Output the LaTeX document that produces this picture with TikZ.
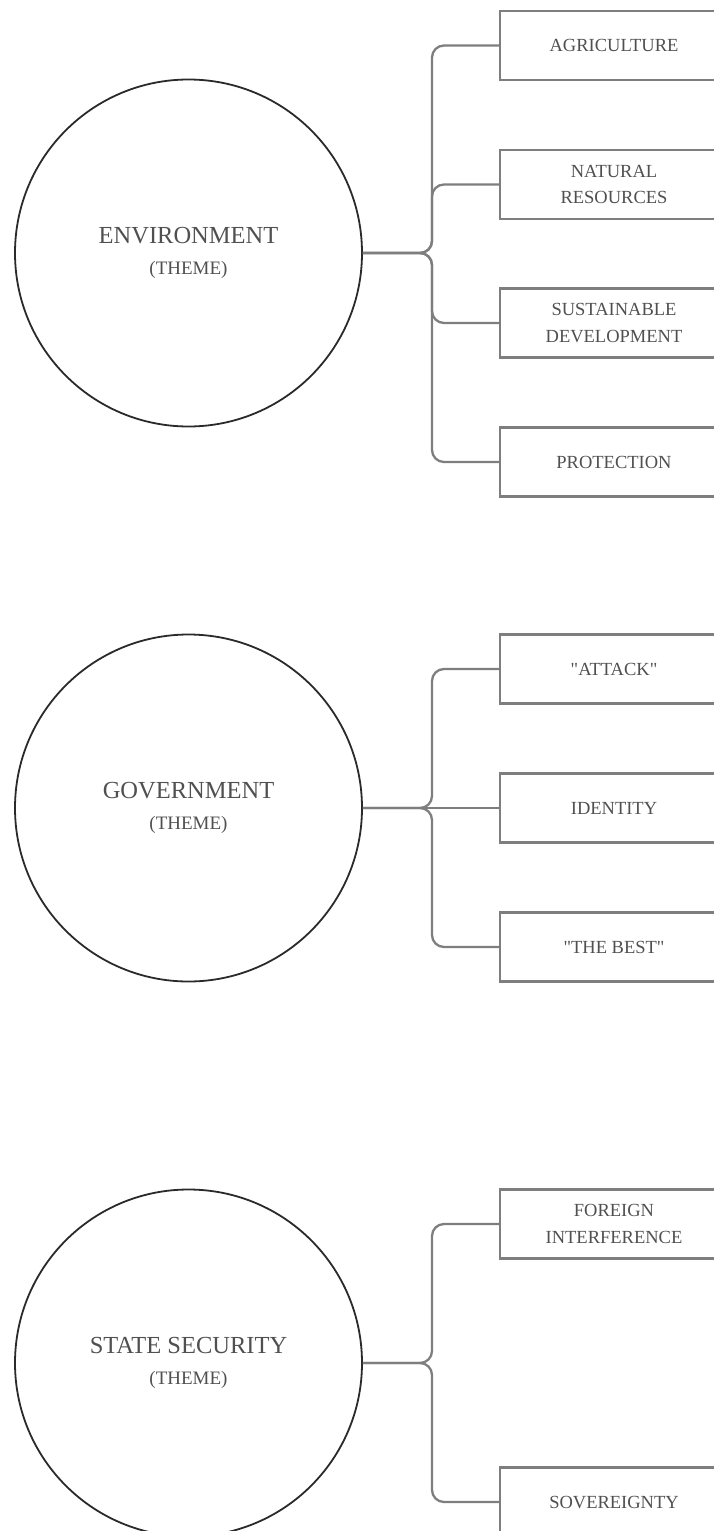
\documentclass[tikz,border=0pt]{standalone}
\usepackage{fontspec}
\setmainfont{Liberation Serif}
\usepackage{xcolor}
\usepackage{tikz}
\usetikzlibrary{positioning}

\definecolor{linegray}{HTML}{7E7E7E}
\definecolor{textgray}{HTML}{505050}
\definecolor{ringdark}{HTML}{2A2A2A}
\newcommand{\themesub}{\fontsize{19}{24}\selectfont}

\begin{document}
\begin{tikzpicture}[x=1pt, y=-1pt,
        theme/.style={circle, draw=ringdark, line width=1.8pt, minimum size=347pt,
            inner sep=0pt, align=center, text=textgray,
            font=\fontsize{24.5}{31}\selectfont},
        topic/.style={rectangle, draw=linegray, line width=2.3pt,
            minimum width=228pt, minimum height=69pt, inner sep=0pt,
            align=center, text=textgray, font=\fontsize{18.5}{26.5}\selectfont},
        branch/.style={draw=linegray, line width=2.3pt, rounded corners=12pt}
    ]
        \useasboundingbox (0,0) rectangle (713,1531);

        \node[theme] (env) at (188.5,253) {ENVIRONMENT\\{\themesub (THEME)}};
        \node[topic] (agri) at (614,45.5) {AGRICULTURE};
        \node[topic] (natres) at (614,184.5) {NATURAL\\RESOURCES};
        \node[topic] (sustdev) at (614,323) {SUSTAINABLE\\DEVELOPMENT};
        \node[topic] (protect) at (614,462) {PROTECTION};
        \coordinate (envfork) at (432,253);
        \foreach \t in {agri, natres, sustdev, protect}
            \draw[branch] (env.east) -- (envfork) |- (\t.west);

        \node[theme] (gov) at (188.5,808) {GOVERNMENT\\{\themesub (THEME)}};
        \node[topic] (attack) at (614,669) {\textquotedbl ATTACK\textquotedbl};
        \node[topic] (ident) at (614,808) {IDENTITY};
        \node[topic] (best) at (614,947) {\textquotedbl THE BEST\textquotedbl};
        \coordinate (govfork) at (432,808);
        \foreach \t in {attack, best}
            \draw[branch] (gov.east) -- (govfork) |- (\t.west);
        \draw[branch] (gov.east) -- (ident.west);

        \node[theme] (sec) at (188.5,1363) {STATE SECURITY\\{\themesub (THEME)}};
        \node[topic] (foreign) at (614,1224) {FOREIGN\\INTERFERENCE};
        \node[topic] (sover) at (614,1502) {SOVEREIGNTY};
        \coordinate (secfork) at (432,1363);
        \foreach \t in {foreign, sover}
            \draw[branch] (sec.east) -- (secfork) |- (\t.west);
    \end{tikzpicture}
\end{document}
